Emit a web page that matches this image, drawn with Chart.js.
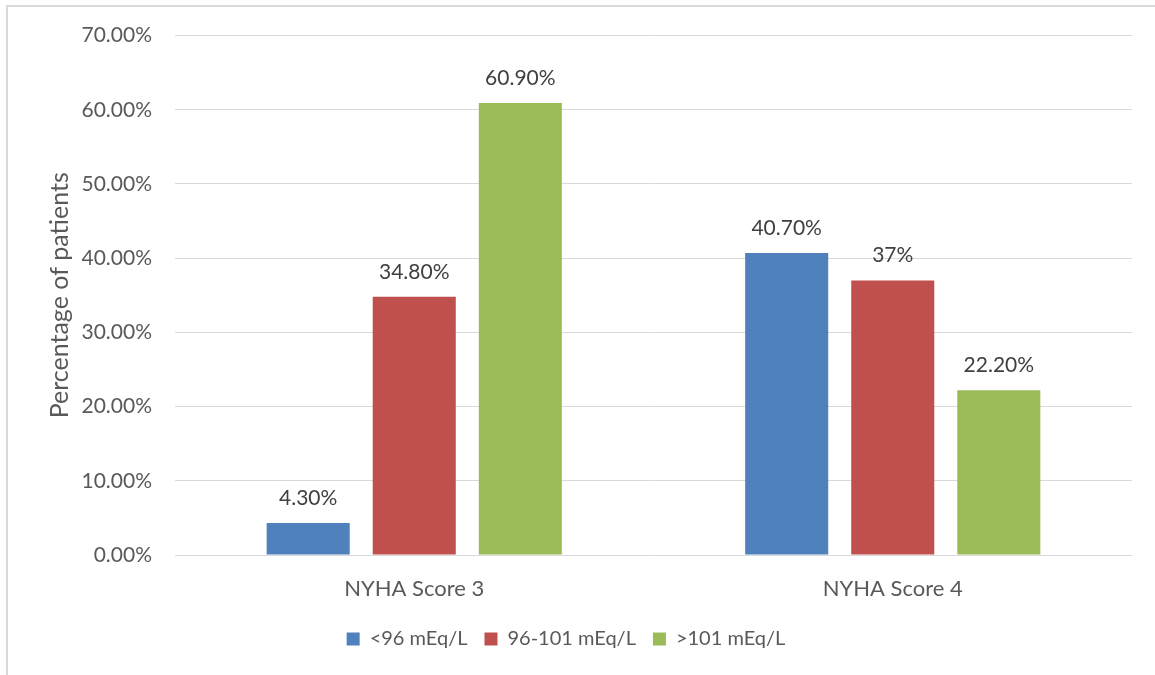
<!DOCTYPE html>
<html>
<head>
<meta charset="utf-8">
<title>NYHA Score by Chloride Level</title>
<script src="https://cdn.jsdelivr.net/npm/chart.js@4/dist/chart.umd.min.js"></script>
<style>
  html, body { margin: 0; padding: 0; background: #ffffff; }
  #wrap { position: relative; width: 1155px; height: 675px; }
</style>
</head>
<body>
<div id="wrap"><canvas id="chart" width="1155" height="675"></canvas></div>
<script>
// Patient groups along the x axis
const categories = ['NYHA Score 3', 'NYHA Score 4'];

// Share of patients (%) per serum chloride band
const below96 = [4.3, 40.7];
const from96to101 = [34.8, 37];
const above101 = [60.9, 22.2];

// Value labels printed above each bar
const below96Labels = ['4.30%', '40.70%'];
const from96to101Labels = ['34.80%', '37%'];
const above101Labels = ['60.90%', '22.20%'];

const FONT = 'Lato, "Open Sans", sans-serif';

// Value labels above the bars
const barValueLabels = {
  id: 'barValueLabels',
  afterDatasetsDraw(chart) {
    const ctx = chart.ctx;
    ctx.save();
    ctx.font = '21px ' + FONT;
    ctx.fillStyle = '#404040';
    ctx.textAlign = 'center';
    ctx.textBaseline = 'middle';
    chart.data.datasets.forEach((ds, i) => {
      const meta = chart.getDatasetMeta(i);
      meta.data.forEach((bar, j) => {
        ctx.fillText(ds.valueLabels[j], bar.x, bar.y - 25);
      });
    });
    ctx.restore();
  }
};

// Thin frame along the left and top edges
const frame = {
  id: 'frame',
  beforeDraw(chart) {
    const ctx = chart.ctx;
    ctx.save();
    ctx.strokeStyle = '#d9d9d9';
    ctx.lineWidth = 2;
    ctx.beginPath();
    ctx.moveTo(7, 675);
    ctx.lineTo(7, 6);
    ctx.lineTo(1155, 6);
    ctx.stroke();
    ctx.restore();
  }
};

new Chart(document.getElementById('chart'), {
  type: 'bar',
  data: {
    labels: categories,
    datasets: [
      { label: '<96 mEq/L', data: below96, valueLabels: below96Labels, backgroundColor: '#4F81BD' },
      { label: '96-101 mEq/L', data: from96to101, valueLabels: from96to101Labels, backgroundColor: '#C0504D' },
      { label: '>101 mEq/L', data: above101, valueLabels: above101Labels, backgroundColor: '#9BBB59' }
    ]
  },
  options: {
    responsive: false,
    animation: false,
    categoryPercentage: 0.665,
    barPercentage: 0.783,
    layout: { padding: { left: 0, right: 23, top: 35, bottom: 16 } },
    plugins: {
      legend: {
        position: 'bottom',
        labels: {
          font: { family: FONT, size: 20 },
          color: '#595959',
          boxWidth: 13,
          boxHeight: 13,
          padding: 17
        }
      },
      tooltip: { enabled: false }
    },
    scales: {
      x: {
        grid: { display: false, drawTicks: false },
        border: { display: false },
        ticks: { font: { family: FONT, size: 22 }, color: '#595959', padding: 21 },
        afterFit(scale) { scale.height = 57; }
      },
      y: {
        min: 0,
        max: 70,
        grid: { color: '#d9d9d9', lineWidth: 1, drawTicks: false },
        border: { display: false },
        ticks: {
          stepSize: 10,
          font: { family: FONT, size: 21 },
          color: '#595959',
          padding: 23,
          callback: (v) => v.toFixed(2) + '%'
        },
        title: {
          display: true,
          text: 'Percentage of patients',
          font: { family: FONT, size: 25 },
          color: '#595959',
          padding: { top: 45, bottom: 0 }
        },
        afterFit(scale) { scale.width = 175; }
      }
    }
  },
  plugins: [barValueLabels, frame]
});
</script>
</body>
</html>
